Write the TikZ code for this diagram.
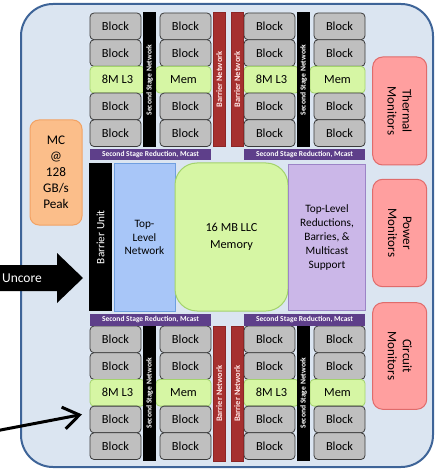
\documentclass[tikz,border=0pt]{standalone}
\usepackage{fontspec}
\setmainfont{Carlito}
\usetikzlibrary{arrows.meta,calc}

\definecolor{framefill}{HTML}{DBE5F1}
\definecolor{frameline}{HTML}{3E6498}
\definecolor{blockfill}{HTML}{BFBFBF}
\definecolor{blockline}{HTML}{3A3A3A}
\definecolor{greenfill}{HTML}{D6F6A4}
\definecolor{greenline}{HTML}{A3D36C}
\definecolor{redbar}{HTML}{A6302F}
\definecolor{redbarline}{HTML}{8C2626}
\definecolor{purplebar}{HTML}{5E3F8A}
\definecolor{mcfill}{HTML}{FBBE8A}
\definecolor{mcline}{HTML}{F2A264}
\definecolor{netfill}{HTML}{A8C6F8}
\definecolor{netline}{HTML}{6F9FE0}
\definecolor{redfill}{HTML}{CBB7E8}
\definecolor{redline}{HTML}{9C84C6}
\definecolor{monfill}{HTML}{FF9F9F}
\definecolor{monline}{HTML}{E06B6B}

\begin{document}
\begin{tikzpicture}[x=1pt,y=-1pt,
  box/.style={inner sep=0pt, outer sep=0pt, align=center},
  chipframe/.style={box, draw=frameline, fill=framefill, line width=2pt, rounded corners=32pt},
  blk/.style={box, draw=blockline, fill=blockfill, rounded corners=4pt, line width=0.8pt,
    minimum width=51pt, minimum height=26.7pt, font=\fontsize{12.4}{14}\selectfont},
  cache/.style={blk, draw=greenline, fill=greenfill},
  ssnet/.style={box, fill=black, text=white, rotate=90, minimum width=135pt, minimum height=13pt,
    font=\fontsize{7.6}{9}\bfseries\selectfont},
  ssred/.style={box, fill=purplebar, text=white, minimum width=121pt, minimum height=11.5pt,
    font=\fontsize{7.5}{9}\bfseries\selectfont},
  barnet/.style={box, draw=redbarline, fill=redbar, text=white!90!red, rotate=90, minimum height=11.5pt,
    line width=0.4pt, font=\fontsize{8.4}{9}\bfseries\selectfont},
  bunit/.style={box, fill=black, text=white, rotate=90, minimum width=147.7pt, minimum height=23pt,
    font=\fontsize{11.3}{13}\selectfont},
  tlnet/.style={box, draw=netline, fill=netfill, line width=1pt, minimum width=61pt, minimum height=147pt,
    font=\fontsize{11.3}{13.6}\selectfont},
  llc/.style={box, draw=greenline, fill=greenfill, line width=1pt, rounded corners=22pt,
    minimum width=113pt, minimum height=148pt, font=\fontsize{12.3}{16.4}\selectfont},
  tlred/.style={box, draw=redline, fill=redfill, line width=1pt, minimum width=77.4pt, minimum height=146.7pt,
    font=\fontsize{11.3}{13.8}\selectfont},
  mc/.style={box, draw=mcline, fill=mcfill, line width=1pt, rounded corners=9pt,
    minimum width=52pt, minimum height=105pt, font=\fontsize{13.2}{16}\selectfont},
  monitor/.style={box, draw=monline, fill=monfill, line width=1pt, rounded corners=10pt, rotate=-90,
    minimum height=54pt, font=\fontsize{13}{15}\selectfont},
  ptr/.style={line width=3pt, -{Straight Barb[length=16pt,width=22pt]}}
]
\useasboundingbox (0,0) rectangle (437,470);

% chip outline
\node[chipframe, minimum width=412pt, minimum height=463pt] (chip) at (227,235.5) {};

% four tiles of blocks, each with its own second stage network and reduction bar
\foreach \g/\gx/\gy/\ry in {tl/90/13/154.75, tr/244/13/154.75, bl/90/326/319.75, br/244/326/319.75} {
  \foreach \r in {1,...,5} {
    \pgfmathsetmacro\cy{\gy+13.35+26.7*(\r-1)}
    \ifnum\r=3
      \node[cache, minimum width=55pt] (b-\g-1-\r) at (\gx+27.5,\cy) {8M L3};
      \node[cache, minimum width=55pt] (b-\g-2-\r) at (\gx+93.5,\cy) {Mem};
    \else
      \node[blk] (b-\g-1-\r) at (\gx+25.5,\cy) {Block};
      \node[blk] (b-\g-2-\r) at (\gx+95.5,\cy) {Block};
    \fi
  }
  \node[ssnet] (ssn-\g) at (\gx+59.5,\gy+67) {Second Stage Network};
  \node[ssred] (ssr-\g) at (\gx+60.5,\ry) {Second Stage Reduction, Mcast};
}

% barrier networks between the tiles
\node[barnet, minimum width=134.4pt] (bn-t1) at (219.2,79.5) {Barrier Network};
\node[barnet, minimum width=134.4pt] (bn-t2) at (237.2,79.5) {Barrier Network};
\node[barnet, minimum width=135.7pt] (bn-b1) at (219.2,393.8) {Barrier Network};
\node[barnet, minimum width=135.7pt] (bn-b2) at (237.2,393.8) {Barrier Network};

% central top-level units
\node[bunit] (barrier) at (100.5,237.2) {Barrier Unit};
\node[tlnet] (tlnet) at (144.5,237.5) {Top-\\Level\\Network};
\node[llc] (llc) at (231.5,237) {16 MB LLC\\Memory};
\node[tlred] (tlred) at (327,237.4) {Top-Level\\Reductions,\\Barries, \&\\Multicast\\Support};

% memory controller
\node[mc] (mc) at (56,172.5) {MC\\@\\128\\GB/s\\Peak};

% monitors on the right
\node[monitor, minimum width=108pt] (thermal) at (399.7,111) {Thermal\\Monitors};
\node[monitor, minimum width=107.4pt] (power) at (399.7,233) {Power\\Monitors};
\node[monitor, minimum width=106.6pt] (circuit) at (399.7,356) {Circuit\\Monitors};

% uncore block arrow
\fill[black] (-2,265) -- (57,265) -- (57,253) -- (83,278) -- (57,303) -- (57,291) -- (-2,291) -- cycle;
\node[text=white, font=\fontsize{13.5}{15}\selectfont] (uncore) at (22,278) {Uncore};

% pointer to a single block
\coordinate (ptrtail) at (-2,430.5);
\draw[ptr] (ptrtail) -- ($(b-bl-1-4.west)+(-8,-5)$);
\end{tikzpicture}
\end{document}
